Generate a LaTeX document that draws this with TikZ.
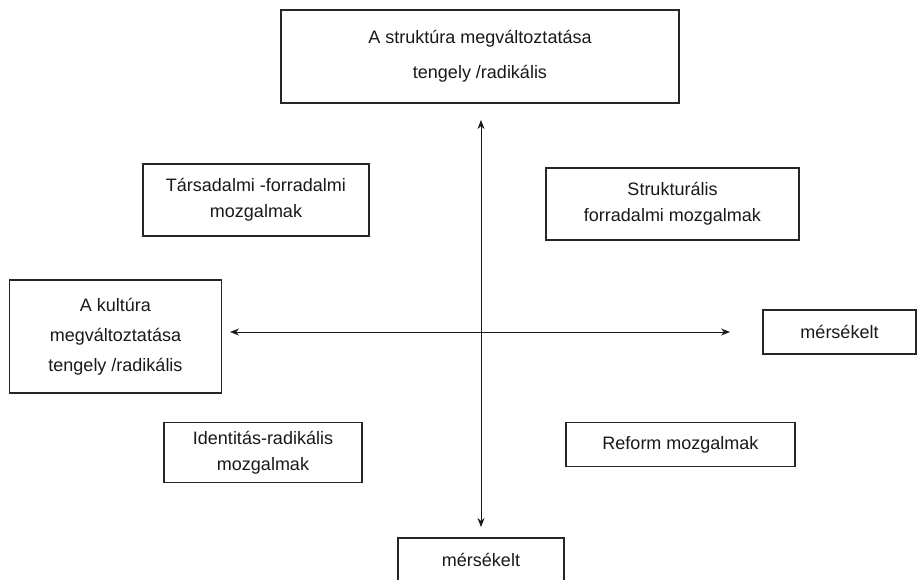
\documentclass[tikz,border=0pt]{standalone}
\usepackage{fontspec}
\setmainfont{Liberation Sans}
\usetikzlibrary{arrows.meta}
\begin{document}
\begin{tikzpicture}[x=1pt,y=-1pt,
  box/.style={draw=black!85, line width=1.4pt, inner sep=0pt, align=center,
    font=\fontsize{18}{26}\selectfont, text=black!90},
  axisline/.style={line width=0.9pt, draw=black!90,
    {Stealth[length=9pt,width=7pt]}-{Stealth[length=9pt,width=7pt]}}]
\clip (0,0) rectangle (918,579);
\fill[white] (0,0) rectangle (918,579);
% boxes
\node[box, minimum width=398pt, minimum height=93pt,
  font=\fontsize{18}{35}\selectfont] (struct) at (480,56.5)
  {A struktúra megváltoztatása\\tengely /radikális};
\node[box, minimum width=226pt, minimum height=72pt] (tarsad) at (256,200)
  {Társadalmi -forradalmi\\mozgalmak};
\node[box, minimum width=253pt, minimum height=72pt] (strukt) at (672.5,204)
  {Strukturális\\forradalmi mozgalmak};
\node[box, minimum width=212pt, minimum height=113pt,
  font=\fontsize{18}{30}\selectfont] (kult) at (115.5,336.5)
  {A kultúra\\megváltoztatása\\tengely /radikális};
\node[box, minimum width=153pt, minimum height=44pt] (mersR) at (839.5,332)
  {mérsékelt};
\node[box, minimum width=198pt, minimum height=60pt] (ident) at (263,452.7)
  {Identitás-radikális\\mozgalmak};
\node[box, minimum width=229pt, minimum height=44pt] (reform) at (680.5,444.7)
  {Reform mozgalmak};
\node[box, minimum width=166pt, minimum height=44pt] (mersB) at (481,560)
  {mérsékelt};
% axes
\coordinate (vtop) at (481,120);
\coordinate (vbot) at (481,527);
\coordinate (hleft) at (230,332);
\coordinate (hright) at (730,332);
\draw[axisline] (vtop) -- (vbot);
\draw[axisline] (hleft) -- (hright);
\end{tikzpicture}
\end{document}
